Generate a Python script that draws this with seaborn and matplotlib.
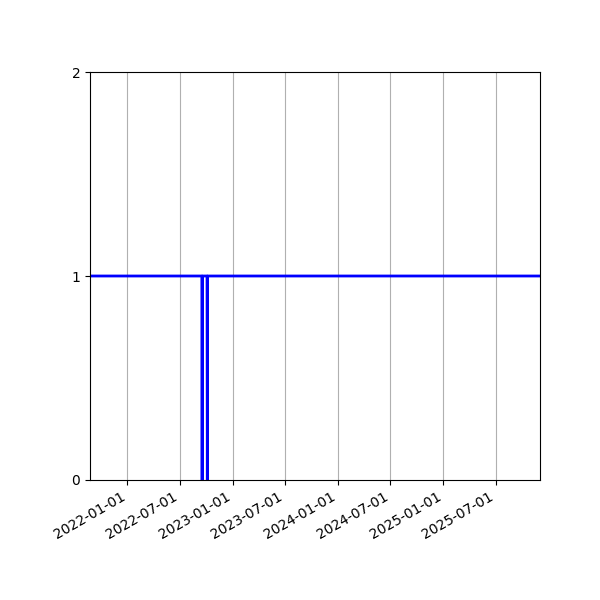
import pandas as pd
import matplotlib
matplotlib.use("Agg")
import matplotlib.pyplot as plt
import matplotlib.dates as mdates
import seaborn as sns

# Status series: 1 everywhere, two single-day outages in autumn 2022
dates = ["2021-08-24", "2022-09-16", "2022-09-17", "2022-09-18",
         "2022-10-04", "2022-10-05", "2022-10-06", "2025-12-02"]
values = [1, 1, 0, 1, 1, 0, 1, 1]
y_ticks = [0, 1, 2]

df = pd.DataFrame({"date": pd.to_datetime(dates), "value": values})

fig, ax = plt.subplots(figsize=(6, 6), dpi=100)

sns.lineplot(ax=ax, data=df, x="date", y="value", color="blue", linewidth=2)

ax.set_xlim(df["date"].min(), df["date"].max())
ax.set_ylim(0, 2)
ax.set_yticks(y_ticks)
ax.set_xlabel("")
ax.set_ylabel("")

ax.xaxis.set_major_locator(mdates.MonthLocator(bymonth=[1, 7]))
ax.xaxis.set_major_formatter(mdates.DateFormatter("%Y-%m-%d"))
ax.grid(axis="x")

fig.autofmt_xdate()
fig.subplots_adjust(left=0.15, right=0.9, top=0.88, bottom=0.2)

plt.savefig("out.png", dpi=100)
